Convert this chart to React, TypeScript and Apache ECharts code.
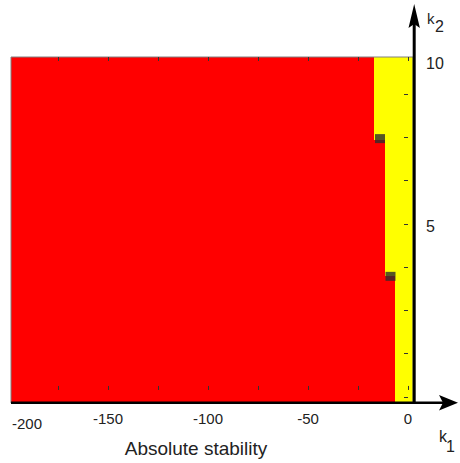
import React, { useEffect, useRef } from "react";
import * as echarts from "echarts";

// Plot window in (k1, k2)
const k1Range = [-198.5, 2.5];
const k2Range = [-0.4, 10.2];

// Stability boundary: k2 band edges and the k1 limit of the red region in each band
const k2BandEdges = [-0.4, 3.49, 7.66, 10.2];
const redLimitK1 = [-6.5, -11.5, -17];

// Dark markers at the corners of the boundary
const markerK1 = [-8.75, -14];
const markerK2 = [3.48, 7.7];

// Axis ticks and labels
const k1TickValues = [-175, -150, -125, -100, -75, -50, -25, 0];
const k1TickLabels = [-150, -100, -50, 0];
const k1EdgeLabel = "-200";
const k2TickValues = [-0.22, 1.11, 2.44, 3.77, 5.09, 6.42, 7.75, 9.07];
const k2TickLabels = [5, 10];

const FONT = "'Liberation Sans', Arial, sans-serif";

export default function App() {
  const ref = useRef<HTMLDivElement>(null);

  useEffect(() => {
    if (!ref.current) return;
    const chart = echarts.init(ref.current, null, { renderer: "svg" });

    const tickStyle = { color: "#333", width: 1 };
    const textStyle = (x: number, y: number, text: string, size: number, align = "left") => ({
      x,
      y,
      text,
      font: `${size}px ${FONT}`,
      fill: "#222",
      align,
      verticalAlign: "middle",
      textAlign: align,
      textVerticalAlign: "middle",
    });

    chart.setOption({
      animation: false,
      grid: { left: 11, top: 57, width: 402, height: 346 },
      xAxis: [
        {
          type: "value",
          min: k1Range[0],
          max: k1Range[1],
          position: "bottom",
          z: 5,
          axisLine: { show: false },
          splitLine: { show: false },
          axisTick: { inside: true, length: 4, customValues: k1TickValues, lineStyle: tickStyle },
          axisLabel: {
            customValues: k1TickLabels,
            fontSize: 15,
            color: "#222",
            margin: 8,
            fontFamily: FONT,
          },
        },
        {
          type: "value",
          min: k1Range[0],
          max: k1Range[1],
          position: "top",
          z: 5,
          axisLine: { show: false },
          splitLine: { show: false },
          axisTick: { inside: true, length: 4, customValues: k1TickValues, lineStyle: tickStyle },
          axisLabel: { show: false },
        },
      ],
      yAxis: {
        type: "value",
        min: k2Range[0],
        max: k2Range[1],
        position: "right",
        z: 5,
        axisLine: { show: false },
        splitLine: { show: false },
        axisTick: { inside: true, length: 4, customValues: k2TickValues, lineStyle: tickStyle },
        axisLabel: {
          customValues: k2TickLabels,
          fontSize: 16,
          color: "#222",
          margin: 13,
          fontFamily: FONT,
        },
      },
      series: [
        {
          type: "custom",
          coordinateSystem: "cartesian2d",
          xAxisIndex: 0,
          yAxisIndex: 0,
          z: 2,
          silent: true,
          data: [[k1Range[0], k2Range[0]]],
          renderItem: (_params: any, api: any) => {
            const pt = (x: number, y: number) => api.coord([x, y]);
            const redPts: number[][] = [pt(k1Range[0], k2BandEdges[0])];
            redLimitK1.forEach((lim, i) => {
              redPts.push(pt(lim, k2BandEdges[i]), pt(lim, k2BandEdges[i + 1]));
            });
            redPts.push(pt(k1Range[0], k2BandEdges[k2BandEdges.length - 1]));
            const tl = pt(k1Range[0], k2Range[1]);
            const br = pt(k1Range[1], k2Range[0]);
            const box = { x: tl[0], y: tl[1], width: br[0] - tl[0], height: br[1] - tl[1] };
            return {
              type: "group",
              children: [
                { type: "rect", shape: box, style: { fill: "#ffff00" } },
                { type: "polygon", shape: { points: redPts }, style: { fill: "#ff0000" } },
                { type: "rect", shape: box, style: { fill: "none", stroke: "#808080", lineWidth: 1 } },
              ],
            };
          },
        },
        {
          type: "scatter",
          z: 3,
          symbol: "rect",
          symbolSize: [10, 9],
          itemStyle: { color: "#2d2d2d" },
          data: markerK1.map((k1, i) => [k1, markerK2[i]]),
        },
      ],
      graphic: [
        // k1 axis with arrow
        { type: "line", z: 100, shape: { x1: 11, y1: 402.7, x2: 443, y2: 402.7 }, style: { stroke: "#000", lineWidth: 2.6 } },
        { type: "polygon", z: 100, shape: { points: [[439, 395], [458, 402.7], [439, 410.4], [443, 402.7]] }, style: { fill: "#000" } },
        // k2 axis with arrow
        { type: "line", z: 100, shape: { x1: 414.2, y1: 404, x2: 414.2, y2: 24 }, style: { stroke: "#000", lineWidth: 3 } },
        { type: "polygon", z: 100, shape: { points: [[408.5, 28], [414.2, 4], [419.9, 28], [414.2, 24]] }, style: { fill: "#000" } },
        // edge label of the k1 axis
        { type: "text", z: 100, style: textStyle(12, 423, k1EdgeLabel, 15) },
        // axis names
        { type: "text", z: 100, style: textStyle(427, 18, "k", 15) },
        { type: "text", z: 100, style: textStyle(435, 26, "2", 16) },
        { type: "text", z: 100, style: textStyle(439, 436, "k", 16) },
        { type: "text", z: 100, style: textStyle(446, 446, "1", 16) },
        { type: "text", z: 100, style: textStyle(196, 448, "Absolute stability", 19, "center") },
      ],
    });

    return () => chart.dispose();
  }, []);

  return <div ref={ref} style={{ position: "absolute", left: 0, top: 0, width: 460, height: 463 }} />;
}
